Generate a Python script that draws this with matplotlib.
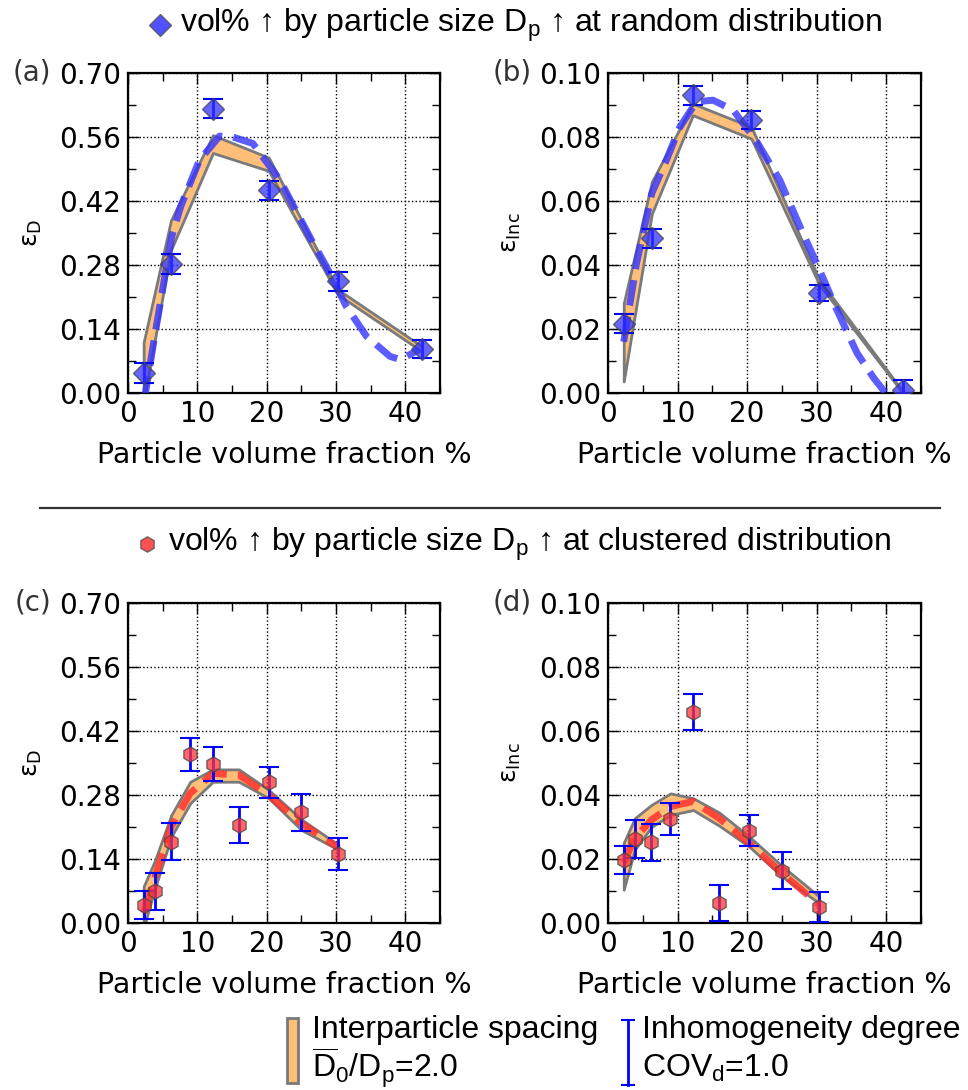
import numpy as np
import matplotlib
matplotlib.use("Agg")
import matplotlib.pyplot as plt
from matplotlib.lines import Line2D
from matplotlib.patches import Rectangle
from matplotlib.ticker import MultipleLocator, FormatStrFormatter

plt.rcParams['font.family'] = ['DejaVu Sans']
plt.rcParams['mathtext.fontset'] = 'custom'
plt.rcParams['mathtext.rm'] = 'Liberation Sans'
plt.rcParams['mathtext.it'] = 'Liberation Sans:italic'
plt.rcParams['mathtext.bf'] = 'Liberation Sans:bold'

# ---- random distribution (a, b)
vf_a = [2.26, 6.2, 12.25, 20.3, 30.3, 42.4]
eD_a = [0.044, 0.282, 0.622, 0.443, 0.244, 0.096]
eD_a_err = [0.022, 0.021, 0.021, 0.020, 0.021, 0.020]
eD_a_hi = [0.111, 0.378, 0.564, 0.515, 0.226, 0.102]
eD_a_lo = [-0.02, 0.313, 0.525, 0.486, 0.215, 0.091]
fitD_a_x = [2.3, 4.0, 6.3, 7.6, 10.3, 13.2, 15.1, 18.0, 21.9, 26.2, 28.6, 31.5, 34.4, 37.8, 39.3, 42.0]
fitD_a_y = [-0.02, 0.138, 0.342, 0.408, 0.509, 0.562, 0.560, 0.546, 0.466, 0.342, 0.277, 0.189, 0.124, 0.080, 0.073, 0.095]

vf_b = [2.26, 6.3, 12.2, 20.6, 30.4, 42.4]
eI_b = [0.0216, 0.0483, 0.093, 0.0852, 0.0312, 0.001]
eI_b_err = [0.003, 0.003, 0.003, 0.0028, 0.0026, 0.003]
eI_b_hi = [0.028, 0.066, 0.0904, 0.0832, 0.0353, 0.0005]
eI_b_lo = [0.0036, 0.056, 0.0868, 0.0795, 0.0338, 0.0]
fitI_b_x = [2.26, 4.1, 6.3, 8.4, 10.3, 12.7, 15.1, 18.0, 21.4, 24.7, 27.6, 30.0, 32.9, 35.8, 38.2, 39.9]
fitI_b_y = [0.016, 0.0405, 0.0624, 0.0728, 0.083, 0.091, 0.0915, 0.0884, 0.0785, 0.0665, 0.052, 0.0405, 0.026, 0.0125, 0.0047, 0.0]

# ---- clustered distribution (c, d)
vf_c = [2.26, 3.84, 6.24, 8.98, 12.25, 16.0, 20.3, 24.98, 30.35]
eD_c = [0.040, 0.069, 0.178, 0.369, 0.348, 0.215, 0.308, 0.242, 0.151]
eD_c_err = [0.031, 0.041, 0.041, 0.036, 0.038, 0.039, 0.034, 0.041, 0.035]
eD_c_hi = [0.080, 0.135, 0.236, 0.309, 0.336, 0.336, 0.291, 0.227, 0.171]
eD_c_lo = [-0.01, 0.073, 0.189, 0.262, 0.309, 0.309, 0.273, 0.204, 0.160]
fitD_c = [0.022, 0.098, 0.211, 0.284, 0.327, 0.324, 0.280, 0.218, 0.165]

eI_d = [0.0198, 0.0262, 0.0252, 0.0324, 0.066, 0.0062, 0.0289, 0.0163, 0.005]
eI_d_err = [0.0044, 0.0059, 0.0058, 0.005, 0.0056, 0.0056, 0.0047, 0.0058, 0.0048]
eI_d_hi = [0.025, 0.0327, 0.0369, 0.0405, 0.039, 0.0345, 0.027, 0.0179, 0.0083]
eI_d_lo = [0.0104, 0.0229, 0.030, 0.0338, 0.0353, 0.0304, 0.0239, 0.0146, 0.0062]
fitI_d = [0.0189, 0.0265, 0.0322, 0.0364, 0.038, 0.0327, 0.025, 0.0156, 0.0057]

W, H = 968, 1090
fig = plt.figure(figsize=(W / 100, H / 100), dpi=100)


def px_rect(l, t, r, b):
    return [l / W, 1 - b / H, (r - l) / W, (b - t) / H]


BAND_FACE = '#ffbf78'
BAND_EDGE = '#7a7a7a'


def panel(rect, tag, ymax, ystep, ylab, x, y, err, lo, hi, fx, fy, mk, mcol, lcol, msize):
    ax = fig.add_axes(rect)
    ax.fill_between(x, lo, hi, facecolor=BAND_FACE, edgecolor=BAND_EDGE, lw=2, zorder=2)
    ax.plot(fx, fy, ls='--', lw=5, color=lcol, alpha=0.8, zorder=3)
    ax.errorbar(x, y, yerr=err, fmt='none', ecolor='blue', elinewidth=2,
                capsize=7, capthick=1.5, zorder=4)
    ax.plot(x, y, ls='none', marker=mk, ms=msize, mfc=mcol, mec='#444444',
            mew=1, alpha=0.75, zorder=5)
    ax.set_xlim(0, 45)
    ax.set_ylim(0, ymax)
    ax.xaxis.set_major_locator(MultipleLocator(10))
    ax.xaxis.set_minor_locator(MultipleLocator(5))
    ax.yaxis.set_major_locator(MultipleLocator(ystep))
    ax.yaxis.set_minor_locator(MultipleLocator(ystep / 2))
    ax.yaxis.set_major_formatter(FormatStrFormatter('%.2f'))
    ax.tick_params(which='both', direction='in', top=True, right=True, labelsize=20, pad=5)
    ax.tick_params(which='major', length=8, width=1)
    ax.tick_params(which='minor', length=6, width=1)
    ax.grid(True, which='major', ls=':', color='black', lw=1)
    for s in ax.spines.values():
        s.set_linewidth(1.6)
    ax.set_xlabel('Particle volume fraction %', fontsize=20.5)
    ax.xaxis.set_label_coords(0.5, -0.15)
    ax.set_ylabel(ylab, fontsize=18, math_fontfamily='dejavusans')
    ax.yaxis.set_label_coords(-0.27, 0.5)
    ax.text(-0.245, 1.0, tag, transform=ax.transAxes, ha='right', va='center',
            fontsize=20, color='#333333')
    return ax


lab_D = '\u03b5$_{\\mathrm{D}}$'
lab_I = '\u03b5$_{\\mathrm{Inc}}$'

panel(px_rect(128, 73, 440, 393), '(a)', 0.70, 0.14, lab_D, vf_a, eD_a, eD_a_err,
      eD_a_lo, eD_a_hi, fitD_a_x, fitD_a_y, 'D', '#3333ff', '#3333ff', 11)
panel(px_rect(608, 73, 921, 393), '(b)', 0.10, 0.02, lab_I, vf_b, eI_b, eI_b_err,
      eI_b_lo, eI_b_hi, fitI_b_x, fitI_b_y, 'D', '#3333ff', '#3333ff', 11)
panel(px_rect(128, 603, 440, 923), '(c)', 0.70, 0.14, lab_D, vf_c, eD_c, eD_c_err,
      eD_c_lo, eD_c_hi, vf_c, fitD_c, 'h', '#ff3333', '#ff2a2a', 11)
panel(px_rect(608, 603, 921, 923), '(d)', 0.10, 0.02, lab_I, vf_c, eI_d, eI_d_err,
      eI_d_lo, eI_d_hi, vf_c, fitI_d, 'h', '#ff3333', '#ff2a2a', 11)

# ---- row headings
fam = ['Liberation Sans', 'DejaVu Sans']
fig.add_artist(Line2D([160 / W], [1 - 25 / H], marker='D', ms=11, color='#3333ff',
                      mec='#555555', alpha=0.85, transform=fig.transFigure))
fig.text(180 / W, 1 - 25 / H, 'vol% \u2191 by particle size D$_\\mathrm{p}$ \u2191 at random distribution',
         fontsize=23, family=fam, va='center')
fig.add_artist(Line2D([147 / W], [1 - 544 / H], marker='h', ms=11, color='#ff3333',
                      mec='#555555', alpha=0.85, transform=fig.transFigure))
fig.text(168 / W, 1 - 544 / H, 'vol% \u2191 by particle size D$_\\mathrm{p}$ \u2191 at clustered distribution',
         fontsize=23, family=fam, va='center')

# separator
fig.add_artist(Line2D([40 / W, 940 / W], [1 - 508 / H, 1 - 508 / H], color='#333333',
                      lw=1.6, transform=fig.transFigure))

# ---- bottom legend
fig.add_artist(Rectangle((287 / W, 1 - 1083 / H), 11 / W, 65 / H, facecolor=BAND_FACE,
                         edgecolor=BAND_EDGE, lw=2, transform=fig.transFigure))
fig.text(312 / W, 1 - 1030 / H, 'Interparticle spacing', fontsize=23, family=fam, va='center')
fig.text(312 / W, 1 - 1068 / H, r'$\overline{\mathrm{D}}_{0}$/D$_\mathrm{p}$=2.0', fontsize=23,
         family=fam, va='center')

ex = 628 / W
fig.add_artist(Line2D([ex, ex], [1 - 1020 / H, 1 - 1085 / H], color='blue', lw=2,
                      transform=fig.transFigure))
for yy in (1020, 1085):
    fig.add_artist(Line2D([ex - 6 / W, ex + 6 / W], [1 - yy / H, 1 - yy / H], color='blue',
                          lw=1.5, transform=fig.transFigure))
fig.text(642 / W, 1 - 1030 / H, 'Inhomogeneity degree', fontsize=23, family=fam, va='center')
fig.text(642 / W, 1 - 1068 / H, r'COV$_\mathrm{d}$=1.0', fontsize=23, family=fam, va='center')

fig.savefig('out.png', dpi=100)
